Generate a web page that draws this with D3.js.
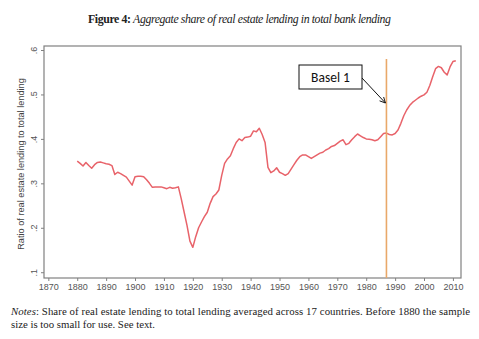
<!DOCTYPE html>
<html>
<head>
<meta charset="utf-8">
<script src="https://cdn.jsdelivr.net/npm/d3@7"></script>
<style>
  html, body { margin: 0; padding: 0; background: #fff; }
  svg { display: block; }
</style>
</head>
<body>
<svg id="chart" width="479" height="339"></svg>
<script>
// Average share of real estate lending in total bank lending, 1880-2011
const years = d3.range(1880, 2012);
const shares = [
  0.350, 0.345, 0.339, 0.347, 0.340, 0.334, 0.342, 0.347, 0.348, 0.346,
  0.344, 0.343, 0.340, 0.320, 0.325, 0.322, 0.318, 0.314, 0.305, 0.296,
  0.315, 0.316, 0.316, 0.315, 0.308, 0.300, 0.291, 0.292, 0.292, 0.292,
  0.290, 0.288, 0.291, 0.289, 0.290, 0.292, 0.265, 0.235, 0.205, 0.170,
  0.156, 0.180, 0.200, 0.213, 0.225, 0.235, 0.255, 0.270, 0.276, 0.285,
  0.318, 0.345, 0.355, 0.362, 0.378, 0.392, 0.400, 0.396, 0.403, 0.404,
  0.406, 0.418, 0.416, 0.424, 0.410, 0.392, 0.336, 0.324, 0.328, 0.335,
  0.325, 0.322, 0.318, 0.322, 0.332, 0.342, 0.352, 0.360, 0.364, 0.364,
  0.360, 0.356, 0.360, 0.364, 0.368, 0.370, 0.375, 0.378, 0.383, 0.385,
  0.390, 0.395, 0.398, 0.387, 0.390, 0.398, 0.405, 0.411, 0.407, 0.403,
  0.400, 0.399, 0.398, 0.396, 0.398, 0.405, 0.412, 0.413, 0.410, 0.409,
  0.412, 0.420, 0.435, 0.452, 0.465, 0.475, 0.482, 0.487, 0.492, 0.496,
  0.499, 0.505, 0.520, 0.540, 0.558, 0.563, 0.560, 0.550, 0.544, 0.562,
  0.574, 0.576
];
const xTicks = d3.range(1870, 2011, 10);
const yTicks = [0.1, 0.2, 0.3, 0.4, 0.5, 0.6];
const baselYear = 1987;
const baselLabel = "Basel 1";

const svg = d3.select("#chart");
const frame = { left: 44, right: 461, top: 46, bottom: 278 };

const x = d3.scaleLinear().domain([1868.5, 2012.8]).range([frame.left, frame.right]);
const y = d3.scaleLinear().domain([0.087, 0.609]).range([frame.bottom, frame.top]);

// Title
const title = svg.append("text")
  .attr("x", 88).attr("y", 23)
  .attr("textLength", 303).attr("lengthAdjust", "spacing")
  .attr("font-family", "Liberation Serif, serif")
  .attr("font-size", 11.8)
  .attr("fill", "#222");
title.append("tspan").attr("font-weight", "bold").text("Figure 4: ");
title.append("tspan").attr("font-style", "italic").text("Aggregate share of real estate lending in total bank lending");

// Plot frame
svg.append("rect")
  .attr("x", frame.left).attr("y", frame.top)
  .attr("width", frame.right - frame.left)
  .attr("height", frame.bottom - frame.top)
  .attr("fill", "none").attr("stroke", "#808080").attr("stroke-width", 1.2);

// Axes
const axisFont = "Liberation Sans, Arial, sans-serif";
const yAxis = svg.append("g")
  .attr("transform", `translate(${frame.left},0)`)
  .call(d3.axisLeft(y).tickValues(yTicks).tickSize(3).tickFormat(d => d3.format(".1f")(d).replace(/^0/, "")));
yAxis.select(".domain").remove();
yAxis.selectAll(".tick line").attr("stroke", "#808080");
yAxis.selectAll(".tick text")
  .attr("font-family", axisFont).attr("font-size", 9).attr("fill", "#555")
  .attr("text-anchor", "middle")
  .attr("transform", "translate(-10,0) rotate(-90)")
  .attr("x", 0).attr("dy", "0.35em");

const xAxis = svg.append("g")
  .attr("transform", `translate(0,${frame.bottom})`)
  .call(d3.axisBottom(x).tickValues(xTicks).tickSize(3).tickFormat(d3.format("d")));
xAxis.select(".domain").remove();
xAxis.selectAll(".tick line").attr("stroke", "#808080");
xAxis.selectAll(".tick text")
  .attr("font-family", axisFont).attr("font-size", 9).attr("fill", "#555")
  .attr("y", 6);

// Y axis title
svg.append("text")
  .attr("transform", `translate(24,${(frame.top + frame.bottom) / 2 + 2}) rotate(-90)`)
  .attr("text-anchor", "middle")
  .attr("font-family", axisFont).attr("font-size", 9.2).attr("fill", "#444")
  .text("Ratio of real estate lending to total lending");

// Share line
const line = d3.line().x((d, i) => x(years[i])).y(d => y(d));
svg.append("path")
  .datum(shares)
  .attr("d", line)
  .attr("fill", "none")
  .attr("stroke", "#e8636a")
  .attr("stroke-width", 1.5)
  .attr("stroke-linejoin", "round");

// Basel 1 marker
svg.append("line")
  .attr("x1", x(baselYear)).attr("x2", x(baselYear))
  .attr("y1", 59).attr("y2", frame.bottom)
  .attr("stroke", "#e9a869").attr("stroke-width", 1.6);

svg.append("defs").append("marker")
  .attr("id", "arrowhead")
  .attr("viewBox", "0 0 10 10")
  .attr("refX", 9).attr("refY", 5)
  .attr("markerWidth", 7).attr("markerHeight", 7)
  .attr("orient", "auto")
  .append("path")
  .attr("d", "M1,1 L9,5 L1,9")
  .attr("fill", "none").attr("stroke", "#111").attr("stroke-width", 1.3);

svg.append("line")
  .attr("x1", 362).attr("y1", 78)
  .attr("x2", x(baselYear) - 1).attr("y2", 103)
  .attr("stroke", "#111").attr("stroke-width", 1)
  .attr("marker-end", "url(#arrowhead)");

svg.append("rect")
  .attr("x", 299).attr("y", 65).attr("width", 63).attr("height", 24)
  .attr("fill", "#fff").attr("stroke", "#111").attr("stroke-width", 1);
svg.append("text")
  .attr("x", 330.5).attr("y", 82)
  .attr("text-anchor", "middle")
  .attr("font-family", "Carlito, Liberation Sans, sans-serif")
  .attr("font-size", 13.5).attr("fill", "#111")
  .text(baselLabel);

// Notes
const notes = svg.append("g")
  .attr("font-family", "Liberation Serif, serif")
  .attr("font-size", 10.8).attr("fill", "#222");
const n1 = notes.append("text").attr("x", 11).attr("y", 315)
  .attr("textLength", 459).attr("lengthAdjust", "spacing");
n1.append("tspan").attr("font-style", "italic").text("Notes");
n1.append("tspan").text(": Share of real estate lending to total lending averaged across 17 countries. Before 1880 the sample");
notes.append("text").attr("x", 11).attr("y", 328)
  .attr("textLength", 144).attr("lengthAdjust", "spacing")
  .text("size is too small for use. See text.");
</script>
</body>
</html>
